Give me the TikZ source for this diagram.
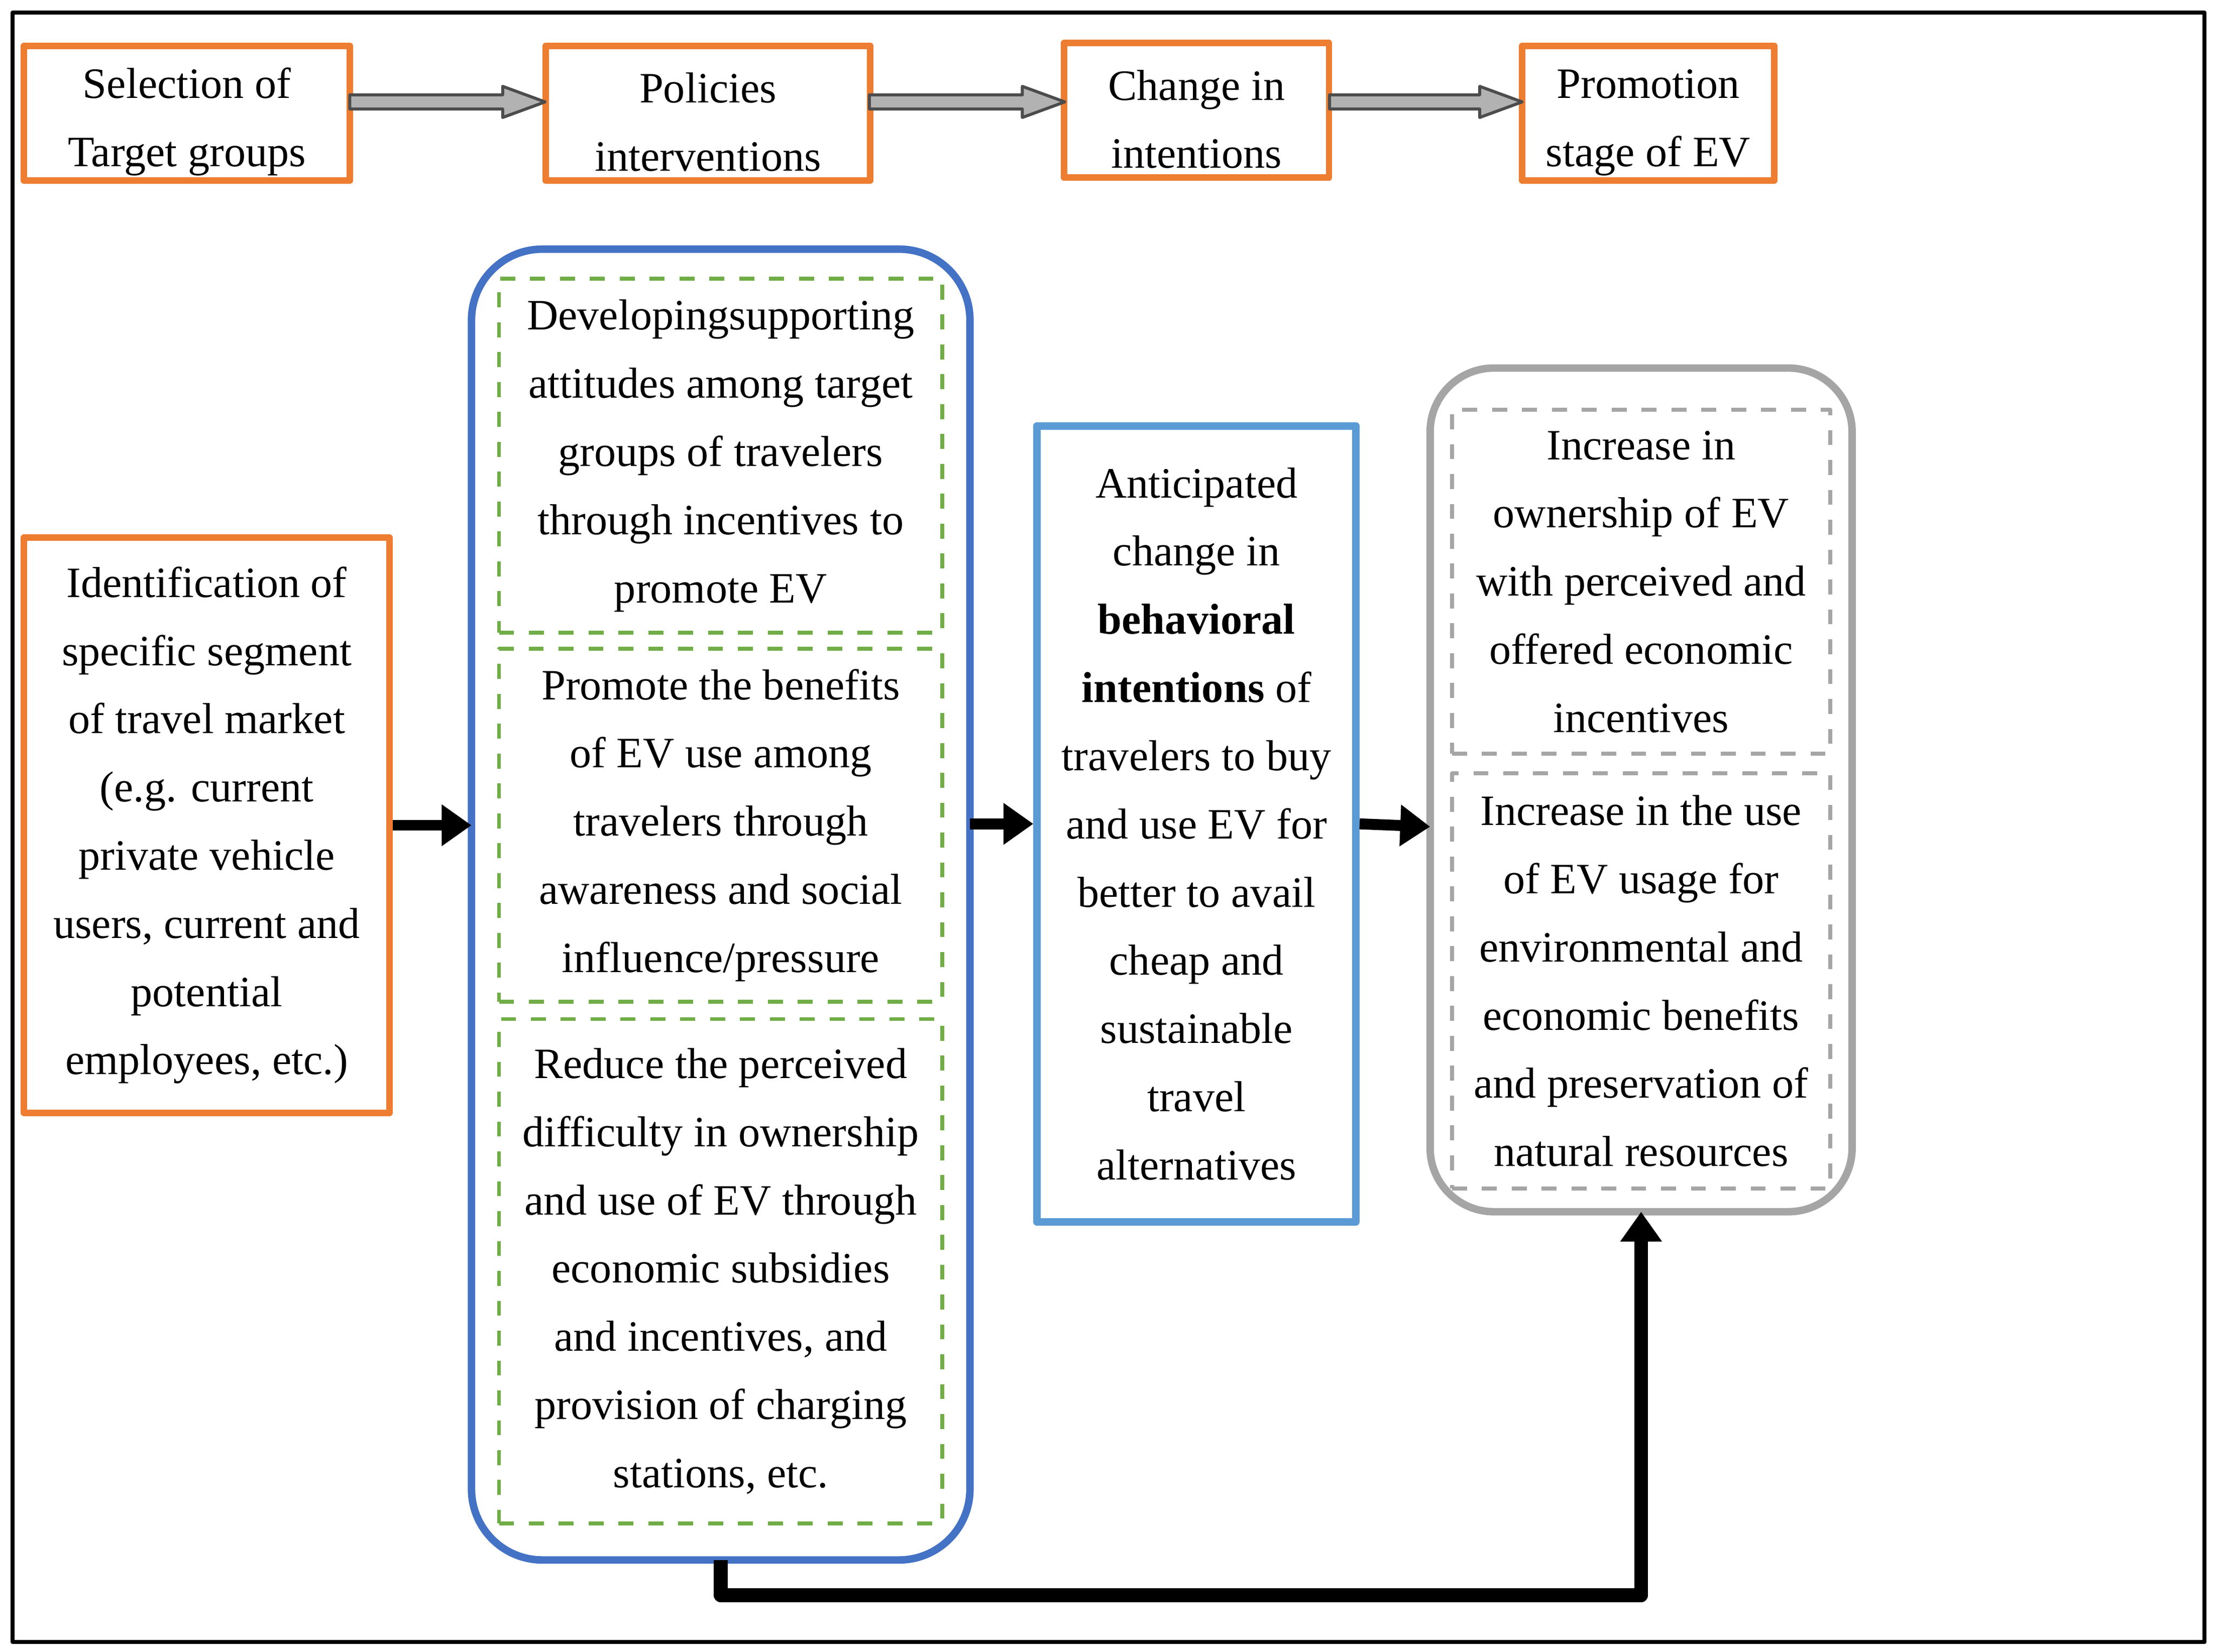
\documentclass[tikz,border=0pt]{standalone}
\usepackage{fontspec}
\setmainfont{Liberation Serif}
\usepackage{tikz}
\usetikzlibrary{arrows.meta}
\definecolor{orng}{RGB}{237,125,49}
\definecolor{blu}{RGB}{68,114,196}
\definecolor{lblu}{RGB}{91,155,213}
\definecolor{grn}{RGB}{112,173,71}
\definecolor{gry}{RGB}{165,165,165}
\begin{document}
\begin{tikzpicture}[x=0.01cm,y=-0.01cm,line join=round]
\tikzstyle{txt} = [font=\fontsize{8.7}{13.7}\selectfont,align=center,inner sep=0pt]
\tikzstyle{obox} = [draw=orng,line width=1.3pt,txt]
\tikzstyle{dgrn} = [draw=grn,dashed,line width=0.8pt,txt]
\tikzstyle{dgry} = [draw=gry,dashed,line width=0.8pt,txt]
\tikzstyle{con} = [line width=2.2pt,-{Triangle[length=6pt,width=8pt]}]
\tikzstyle{blk} = [draw=black!70,fill=gray!60,line width=0.6pt]
\useasboundingbox (0,0) rectangle (1565,1167);
\draw[line width=0.8pt] (9,9) rectangle (1557,1160);
% top row
\node[obox,minimum width=2.30cm,minimum height=0.95cm] (sel) at (132,80) {\strut Selection of\\Target groups};
\node[obox,minimum width=2.29cm,minimum height=0.95cm] (pol) at (500,80) {\strut Policies\\interventions};
\node[obox,minimum width=1.87cm,minimum height=0.95cm] (chg) at (845,78) {\strut Change in\\intentions};
\node[obox,minimum width=1.78cm,minimum height=0.95cm] (pro) at (1164,80) {\strut Promotion\\stage of EV};
\foreach \a/\b in {247/385,614/752,939/1075}
  \draw[blk] (\a,67)--(\b-30,67)--(\b-30,61)--(\b,72)--(\b-30,83)--(\b-30,77)--(\a,77)--cycle;
% left
\node[obox,minimum width=2.58cm,minimum height=4.06cm] (ident) at (146,583) {Identification of\\specific segment\\of travel market\\(e.g. current\\private vehicle\\users, current and\\potential\\employees, etc.)};
% policies block
\draw[blu,line width=1.5pt,rounded corners=0.5cm] (333,176) rectangle (685,1102);
\coordinate (polb) at (509,1102);
\coordinate (poll) at (333,583);
\coordinate (polr) at (685,582);
\node[dgrn,minimum width=3.13cm,minimum height=2.50cm] (att) at (509,322) {Developingsupporting\\attitudes among target\\groups of travelers\\through incentives to\\promote EV};
\node[dgrn,minimum width=3.13cm,minimum height=2.49cm] (ben) at (509,583) {Promote the benefits\\of EV use among\\travelers through\\awareness and social\\influence/pressure};
\node[dgrn,minimum width=3.13cm,minimum height=3.56cm] (red) at (509,898) {Reduce the perceived\\difficulty in ownership\\and use of EV through\\economic subsidies\\and incentives, and\\provision of charging\\stations, etc.};
% intentions
\node[draw=lblu,line width=1.5pt,txt,minimum width=2.25cm,minimum height=5.62cm] (ant) at (845,582) {Anticipated\\change in\\\textbf{behavioral}\\\textbf{intentions} of\\travelers to buy\\and use EV for\\better to avail\\cheap and\\sustainable\\travel\\alternatives};
% outcomes block
\draw[gry,line width=1.5pt,rounded corners=0.45cm] (1010,260) rectangle (1308,856);
\coordinate (outb) at (1159,856);
\coordinate (outl) at (1010,584);
\node[dgry,minimum width=2.67cm,minimum height=2.43cm] (own) at (1159,411) {Increase in\\ownership of EV\\with perceived and\\offered economic\\incentives};
\node[dgry,minimum width=2.67cm,minimum height=2.93cm] (use) at (1159,693) {Increase in the use\\of EV usage for\\environmental and\\economic benefits\\and preservation of\\natural resources};
% connectors
\draw[con] (ident.east) -- (poll);
\draw[con] (polr) -- (ant.west);
\draw[con] (ant.east) -- (outl);
\draw[con,line width=2.8pt] (polb) |- (1159,1127) -- (outb);
\end{tikzpicture}
\end{document}
